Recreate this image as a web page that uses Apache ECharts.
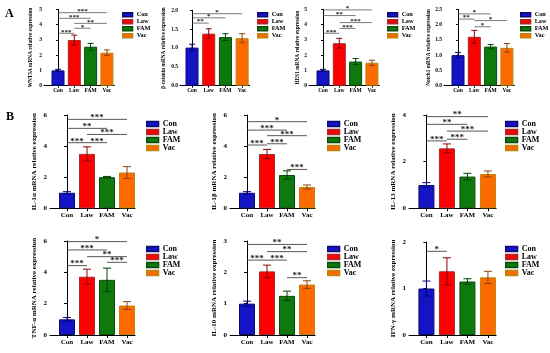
<!DOCTYPE html>
<html>
<head>
<meta charset="utf-8">
<script src="https://cdn.jsdelivr.net/npm/echarts@6/dist/echarts.min.js"></script>
<style>html,body{margin:0;padding:0;background:#fff;}#c{width:550px;height:353px;}</style>
</head>
<body>
<div id="c"></div>
<script>
// ---------- DATA ----------
const categories = ['Con', 'Law', 'FAM', 'Vac'];

const wnt3aMean = [1.0, 2.99, 2.55, 2.16];
const wnt3aSd   = [0.07, 0.32, 0.22, 0.18];
const wnt3aSig  = [[0,3,4.78,'***'],[0,2,4.41,'***'],[1,3,4.08,'**'],[1,2,3.76,'*'],[0,1,3.43,'***']];

const betaMean = [1.01, 1.38, 1.29, 1.26];
const betaSd   = [0.09, 0.13, 0.09, 0.12];
const betaSig  = [[0,3,1.91,'*'],[0,2,1.80,'*'],[0,1,1.66,'**']];

const hes1Mean = [1.0, 2.78, 1.58, 1.50];
const hes1Sd   = [0.07, 0.32, 0.20, 0.17];
const hes1Sig  = [[0,3,4.96,'*'],[0,2,4.59,'**'],[1,3,4.13,'***'],[1,2,3.75,'***'],[0,1,3.43,'***']];

const notch1Mean = [1.0, 1.60, 1.28, 1.24];
const notch1Sd   = [0.09, 0.21, 0.07, 0.14];
const notch1Sig  = [[0,2,2.35,'*'],[0,1,2.18,'**'],[1,3,2.13,'*'],[1,2,1.93,'*']];

const il1aMean = [1.0, 3.50, 2.00, 2.30];
const il1aSd   = [0.07, 0.45, 0.05, 0.38];
const il1aSig  = [[0,3,5.72,'***'],[0,2,5.14,'**'],[1,3,4.75,'***'],[0,1,4.22,'***'],[1,2,4.22,'***']];

const il1bMean = [1.0, 3.49, 2.14, 1.37];
const il1bSd   = [0.07, 0.30, 0.27, 0.13];
const il1bSig  = [[0,3,5.57,'*'],[0,2,5.03,'***'],[1,3,4.67,'***'],[0,1,4.07,'***'],[1,2,4.15,'***'],[2,3,2.50,'***']];

const il13Mean = [1.0, 2.57, 1.36, 1.47];
const il13Sd   = [0.10, 0.19, 0.14, 0.13];
const il13Sig  = [[0,3,3.93,'**'],[0,2,3.60,'**'],[1,3,3.31,'***'],[0,1,2.89,'***'],[1,2,2.96,'***']];

const tnfMean = [1.0, 3.72, 3.52, 1.88];
const tnfSd   = [0.12, 0.48, 0.75, 0.25];
const tnfSig  = [[0,3,5.96,'*'],[0,2,5.43,'***'],[1,3,5.00,'**'],[0,1,4.43,'***'],[2,3,4.64,'***']];

const il10Mean = [1.0, 2.03, 1.25, 1.61];
const il10Sd   = [0.08, 0.20, 0.15, 0.12];
const il10Sig  = [[0,3,2.89,'**'],[1,3,2.66,'**'],[0,1,2.39,'***'],[1,2,2.39,'***'],[2,3,1.83,'**']];

const ifnMean = [1.0, 1.37, 1.15, 1.24];
const ifnSd   = [0.16, 0.29, 0.06, 0.13];
const ifnSig  = [[0,1,1.80,'*']];

const yNames = ['WNT3A mRNA relative expression','β-catenin mRNA relative expression','HES1 mRNA relative expression','Notch1 mRNA relative expression',
  'IL-1α mRNA relative expression','IL-1β mRNA relative expression','IL-13 mRNA relative expression',
  'TNF-α mRNA relative expression','IL-10 mRNA relative expression','IFN-γ mRNA relative expression'];
const yMaxes = [5, 2, 5, 2.5, 6, 6, 4, 6, 3, 2];
const yIntervals = [1, 0.5, 1, 0.5, 2, 2, 2, 2, 1, 1];
const yDecimals = [0, 1, 0, 1, 0, 0, 0, 0, 0, 0];

// ---------- LAYOUT / STYLE ----------
const FONT = '"Liberation Serif","Times New Roman",serif';
const fill   = ['#1414c4', '#ff0000', '#0e7a0e', '#ff6a00'];
const border = ['#0a0a70', '#a52a2a', '#0a4a0a', '#b8860b'];
const errCol = ['#000080', '#8b0000', '#004000', '#8b4513'];

const means = [wnt3aMean, betaMean, hes1Mean, notch1Mean, il1aMean, il1bMean, il13Mean, tnfMean, il10Mean, ifnMean];
const sds   = [wnt3aSd, betaSd, hes1Sd, notch1Sd, il1aSd, il1bSd, il13Sd, tnfSd, il10Sd, ifnSd];
const sigs  = [wnt3aSig, betaSig, hes1Sig, notch1Sig, il1aSig, il1bSig, il13Sig, tnfSig, il10Sig, ifnSig];

const lay = [
  {ax:44,  top:9.3,  bot:85.7, sp:16.3, xmin:-0.86, xmax:3.45, lx:122, ly:11.5, ng:11, s:true},
  {ax:180, top:10.3, bot:85.7, sp:16.7, xmin:-0.72, xmax:3.45, lx:257, ly:11.5, ng:14, s:true},
  {ax:309, top:9.3,  bot:85.7, sp:16.3, xmin:-0.86, xmax:3.45, lx:387, ly:11.5, ng:8,  s:true},
  {ax:444, top:9.3,  bot:85.7, sp:16.3, xmin:-0.86, xmax:3.45, lx:520, ly:11.5, ng:13, s:true},
  {ax:50,  top:115,  bot:208.3, sp:20,  xmin:-0.85, xmax:3.4, lx:146, ly:120, ng:12, s:false},
  {ax:230, top:115,  bot:208.3, sp:20,  xmin:-0.85, xmax:3.4, lx:327, ly:120, ng:12, s:false},
  {ax:409, top:115,  bot:208.3, sp:20.5,xmin:-0.85, xmax:3.4, lx:505, ly:120, ng:12, s:false},
  {ax:50,  top:241,  bot:335,  sp:20,   xmin:-0.85, xmax:3.4, lx:146, ly:245, ng:12, s:false},
  {ax:230, top:241,  bot:335,  sp:20,   xmin:-0.85, xmax:3.4, lx:327, ly:245, ng:12, s:false},
  {ax:409, top:242,  bot:335,  sp:20.5, xmin:-0.85, xmax:3.4, lx:505, ly:245, ng:12, s:false}
];

const grid = [], xAxis = [], yAxis = [], series = [], legend = [];
lay.forEach((L, k) => {
  const fs = L.s ? 5.5 : 7;
  grid.push({left: L.ax, top: L.top, width: (L.xmax - L.xmin) * L.sp, height: L.bot - L.top, containLabel: false});
  xAxis.push({
    type: 'value', gridIndex: k, min: L.xmin, max: L.xmax,
    axisLine: {show: true, onZero: false, lineStyle: {color: '#000', width: 1}},
    axisTick: {show: true, customValues: [0,1,2,3], length: L.s ? 2 : 3, lineStyle: {color: '#000', width: 1}},
    axisLabel: {show: true, customValues: [0,1,2,3], formatter: v => categories[Math.round(v)] || '',
      fontFamily: FONT, fontWeight: 'bold', fontSize: fs, color: '#000', margin: L.s ? 2 : 3.5},
    splitLine: {show: false}
  });
  yAxis.push({
    type: 'value', gridIndex: k, min: 0, max: yMaxes[k], interval: yIntervals[k],
    axisLine: {show: true, lineStyle: {color: '#000', width: 1}},
    axisTick: {show: true, length: L.s ? 2 : 3, lineStyle: {color: '#000', width: 1}},
    axisLabel: {formatter: v => v.toFixed(yDecimals[k]), fontFamily: FONT, fontWeight: 'bold', fontSize: fs, color: '#000', margin: L.s ? 2 : 3},
    splitLine: {show: false},
    name: yNames[k], nameLocation: 'middle', nameGap: L.ng,
    nameTextStyle: {fontFamily: FONT, fontWeight: 'bold', fontSize: L.s ? 5.3 : 7, color: '#000'}
  });
  categories.forEach((c, g) => {
    series.push({
      type: 'bar', name: c, xAxisIndex: k, yAxisIndex: k,
      data: [[g, means[k][g]]], barWidth: L.s ? 13 : 16, barGap: '-100%',
      itemStyle: {color: fill[g], borderColor: border[g], borderWidth: 1},
      emphasis: {disabled: true}, z: 2
    });
  });
  const capW = L.s ? 3 : 4;
  series.push({
    type: 'custom', xAxisIndex: k, yAxisIndex: k, z: 5, clip: false, silent: true,
    data: means[k].map((m, i) => [i, m, sds[k][i]]),
    encode: {x: 0, y: 1},
    renderItem: (params, api) => {
      const i = api.value(0), m = api.value(1), s = api.value(2);
      const t = api.coord([i, m + s]), b = api.coord([i, m - s]);
      const st = {stroke: errCol[i], lineWidth: 1};
      return {type: 'group', children: [
        {type: 'line', shape: {x1: t[0], y1: t[1], x2: b[0], y2: b[1]}, style: st},
        {type: 'line', shape: {x1: t[0]-capW, y1: t[1], x2: t[0]+capW, y2: t[1]}, style: st},
        {type: 'line', shape: {x1: b[0]-capW, y1: b[1], x2: b[0]+capW, y2: b[1]}, style: st}
      ]};
    }
  });
  const sg = sigs[k];
  series.push({
    type: 'custom', xAxisIndex: k, yAxisIndex: k, z: 6, clip: false, silent: true,
    data: sg.map(s => [s[0], s[1], s[2]]),
    encode: {x: [0, 1], y: 2},
    renderItem: (params, api) => {
      const p1 = api.coord([api.value(0), api.value(2)]);
      const p2 = api.coord([api.value(1), api.value(2)]);
      return {type: 'group', children: [
        {type: 'line', shape: {x1: p1[0], y1: p1[1], x2: p2[0], y2: p2[1]}, style: {stroke: '#444', lineWidth: L.s ? 0.7 : 0.9}},
        {type: 'text', x: (p1[0] + p2[0]) / 2, y: p1[1] + (L.s ? 2 : 3), style: {text: sg[params.dataIndex][3], align: 'center', verticalAlign: 'bottom',
          font: 'bold ' + (L.s ? 7 : 9) + 'px ' + FONT, fill: '#222'}}
      ]};
    }
  });
  legend.push({
    data: categories, orient: 'vertical', left: L.lx, top: L.ly, padding: 0,
    icon: 'rect', itemWidth: L.s ? 10 : 12, itemHeight: L.s ? 4 : 5, itemGap: L.s ? 0.5 : 0,
    selectedMode: false,
    itemStyle: {borderWidth: 1.3},
    textStyle: {fontFamily: FONT, fontWeight: 'bold', fontSize: L.s ? 6.3 : 8, lineHeight: L.s ? 6.5 : 8, color: '#000', padding: [0,0,0,-1]}
  });
});

const chart = echarts.init(document.getElementById('c'), null, {renderer: 'canvas'});
chart.setOption({
  animation: false,
  backgroundColor: '#fff',
  grid, xAxis, yAxis, series, legend,
  graphic: [
    {type: 'text', left: 5, top: 8, style: {text: 'A', font: 'bold 12px ' + FONT, fill: '#000'}},
    {type: 'text', left: 6, top: 111, style: {text: 'B', font: 'bold 12px ' + FONT, fill: '#000'}}
  ]
});
</script>
</body>
</html>
